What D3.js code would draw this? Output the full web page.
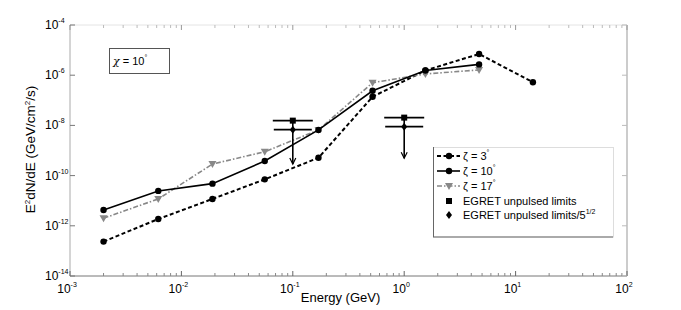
<!DOCTYPE html>
<html>
<head>
<meta charset="utf-8">
<script src="https://cdn.jsdelivr.net/npm/d3@7.9.0/dist/d3.min.js"></script>
<style>
  body { margin: 0; background: #fff; }
  text { font-family: "Liberation Sans", Arial, sans-serif; fill: #000; }
</style>
</head>
<body>
<svg id="chart" width="681" height="310"></svg>
<script>
// energies (GeV) of the model points
const energy = [0.002, 0.0062, 0.019, 0.056, 0.17, 0.52, 1.55, 4.7, 14.3];
// log10 of E^2 dN/dE for each zeta
const zeta3 = [-12.63, -11.73, -10.93, -10.15, -9.29, -6.86, -5.81, -5.155, -6.28];
const zeta10 = [-11.37, -10.61, -10.32, -9.42, -8.18, -6.62, -5.81, -5.57];
const zeta17 = [-11.70, -10.93, -9.54, -9.05, -8.18, -6.30, -5.95, -5.79];
// EGRET unpulsed limits
const egretE = [0.1, 1];
const egretLim = [-7.81, -7.69];
const egretLim5 = [-8.17, -8.05];
const egretTip = [-9.54, -9.31];

const xTicks = [-3, -2, -1, 0, 1, 2];
const yTicks = [-14, -12, -10, -8, -6, -4];

const margin = {top: 25, right: 54, bottom: 34, left: 70},
      width = 681 - margin.left - margin.right,
      height = 310 - margin.top - margin.bottom;

const svgContainer = d3.select("#chart");
const svg = svgContainer.append("g")
  .attr("transform", `translate(${margin.left},${margin.top})`);

const xScale = d3.scaleLog().domain([1e-3, 1e2]).range([0, width]);
const yScale = d3.scaleLog().domain([1e-14, 1e-4]).range([height, 0]);

// frame: top and right drawn faint like the original
svg.append("line").attr("x1", 0).attr("x2", width).attr("y1", 0).attr("y2", 0)
  .attr("stroke", "#e4e4e4");
svg.append("line").attr("x1", width).attr("x2", width).attr("y1", 0).attr("y2", height)
  .attr("stroke", "#999");
svg.append("line").attr("x1", 0).attr("x2", 0).attr("y1", 0).attr("y2", height)
  .attr("stroke", "#aaa");
svg.append("line").attr("x1", 0).attr("x2", width).attr("y1", height).attr("y2", height)
  .attr("stroke", "#777");

// x ticks (major + minor), inward, bottom and top
const minor = [];
for (let e = -3; e < 2; e++) for (let m = 2; m <= 9; m++) minor.push(m * Math.pow(10, e));
svg.selectAll(".xminor").data(minor).enter().append("line")
  .attr("x1", d => xScale(d)).attr("x2", d => xScale(d))
  .attr("y1", height).attr("y2", height - 3).attr("stroke", "#888");
svg.selectAll(".xminorTop").data(minor).enter().append("line")
  .attr("x1", d => xScale(d)).attr("x2", d => xScale(d))
  .attr("y1", 0).attr("y2", 3).attr("stroke", "#bbb");
svg.selectAll(".xmajor").data(xTicks).enter().append("line")
  .attr("x1", d => xScale(Math.pow(10, d))).attr("x2", d => xScale(Math.pow(10, d)))
  .attr("y1", height).attr("y2", height - 5).attr("stroke", "#666");
svg.selectAll(".xmajorTop").data(xTicks).enter().append("line")
  .attr("x1", d => xScale(Math.pow(10, d))).attr("x2", d => xScale(Math.pow(10, d)))
  .attr("y1", 0).attr("y2", 5).attr("stroke", "#999");

// y ticks
svg.selectAll(".ymajor").data(yTicks).enter().append("line")
  .attr("x1", 0).attr("x2", 5)
  .attr("y1", d => yScale(Math.pow(10, d))).attr("y2", d => yScale(Math.pow(10, d)))
  .attr("stroke", "#777");
svg.selectAll(".ymajorR").data(yTicks).enter().append("line")
  .attr("x1", width).attr("x2", width - 5)
  .attr("y1", d => yScale(Math.pow(10, d))).attr("y2", d => yScale(Math.pow(10, d)))
  .attr("stroke", "#bbb");

// tick labels "10^n"
const xl = svg.selectAll(".xlab").data(xTicks).enter().append("text")
  .attr("x", d => xScale(Math.pow(10, d)) - 3)
  .attr("y", height + 17)
  .attr("text-anchor", "middle")
  .style("font-size", "12px");
xl.append("tspan").text("10");
xl.append("tspan").attr("dy", -6).style("font-size", "7px").text(d => d === 0 ? "0" : d);

const yl = svg.selectAll(".ylab").data(yTicks).enter().append("text")
  .attr("x", -25)
  .attr("y", d => yScale(Math.pow(10, d)) + 4)
  .attr("text-anchor", "start")
  .style("font-size", "12px");
yl.append("tspan").text("10");
yl.append("tspan").attr("dy", -6).style("font-size", "7px").text(d => d);

// axis labels
svg.append("text")
  .attr("x", width / 2 - 8).attr("y", height + 26)
  .attr("text-anchor", "middle").style("font-size", "13px")
  .text("Energy (GeV)");

const yLabel = svg.append("text")
  .attr("transform", "rotate(-90)")
  .attr("x", -height / 2 + 1).attr("y", -35)
  .attr("text-anchor", "middle").style("font-size", "13.5px");
yLabel.append("tspan").text("E");
yLabel.append("tspan").attr("dy", -5).style("font-size", "8px").text("2");
yLabel.append("tspan").attr("dy", 5).text("dN/dE (GeV/cm");
yLabel.append("tspan").attr("dy", -5).style("font-size", "8px").text("2");
yLabel.append("tspan").attr("dy", 5).text("/s)");

// series
const series = [
  {vals: zeta3, color: "#000", width: 2, dash: "4,2.5", marker: "circle", label: "3"},
  {vals: zeta17, color: "#888", width: 1.6, dash: "5,2,1.5,2", marker: "tri", label: "17"},
  {vals: zeta10, color: "#000", width: 1.6, dash: null, marker: "circle", label: "10"}
];

const line = d3.line()
  .x((d, i) => xScale(energy[i]))
  .y(d => yScale(Math.pow(10, d)));

function drawMarker(g, kind, color, x, y) {
  if (kind === "circle") {
    g.append("circle").attr("cx", x).attr("cy", y).attr("r", 3.2).attr("fill", color);
  } else {
    g.append("path").attr("d", `M${x - 4},${y - 3}L${x + 4},${y - 3}L${x},${y + 4}Z`)
      .attr("fill", color);
  }
}

series.forEach(s => {
  svg.append("path")
    .datum(s.vals)
    .attr("d", line)
    .attr("fill", "none")
    .attr("stroke", s.color)
    .attr("stroke-width", s.width)
    .attr("stroke-dasharray", s.dash);
  const g = svg.append("g");
  s.vals.forEach((v, i) => drawMarker(g, s.marker, s.color, xScale(energy[i]), yScale(Math.pow(10, v))));
});

// EGRET limits
egretE.forEach((e, i) => {
  const x = xScale(e);
  const y1 = yScale(Math.pow(10, egretLim[i]));
  const y2 = yScale(Math.pow(10, egretLim5[i]));
  const y3 = yScale(Math.pow(10, egretTip[i]));
  svg.append("line").attr("x1", x - 20).attr("x2", x + 20).attr("y1", y1).attr("y2", y1)
    .attr("stroke", "#000").attr("stroke-width", 1.8);
  svg.append("line").attr("x1", x - 19).attr("x2", x + 19).attr("y1", y2).attr("y2", y2)
    .attr("stroke", "#000").attr("stroke-width", 1.8);
  svg.append("line").attr("x1", x).attr("x2", x).attr("y1", y1).attr("y2", y3)
    .attr("stroke", "#000").attr("stroke-width", 1.6);
  svg.append("path").attr("d", `M${x - 3},${y3 - 6}L${x},${y3}L${x + 3},${y3 - 6}`)
    .attr("fill", "none").attr("stroke", "#000").attr("stroke-width", 1.2);
  svg.append("rect").attr("x", x - 3).attr("y", y1 - 3).attr("width", 6).attr("height", 6)
    .attr("fill", "#000");
  svg.append("path").attr("d", `M${x},${y2 - 4}L${x + 3},${y2}L${x},${y2 + 4}L${x - 3},${y2}Z`)
    .attr("fill", "#000");
});

// chi annotation box
svgContainer.append("rect")
  .attr("x", 109.5).attr("y", 48.5).attr("width", 60).attr("height", 25)
  .attr("fill", "#fff").attr("stroke", "#555");
const chi = svgContainer.append("text").attr("x", 113).attr("y", 65).style("font-size", "11px");
chi.append("tspan").style("font-style", "italic").style("font-family", "'DejaVu Serif', serif").text("χ");
chi.append("tspan").text(" = 10");
chi.append("tspan").attr("dy", -5).style("font-size", "7px").text("°");

// legend
const lx = 433, ly = 147;
const legend = svgContainer.append("g");
legend.append("rect").attr("x", lx + 0.5).attr("y", ly + 0.5).attr("width", 180).attr("height", 89.5)
  .attr("fill", "#fff").attr("stroke", "#ddd");
legend.append("line").attr("x1", lx + 0.5).attr("x2", lx + 0.5).attr("y1", ly).attr("y2", ly + 90)
  .attr("stroke", "#666");
legend.append("line").attr("x1", lx).attr("x2", lx + 180).attr("y1", ly + 90).attr("y2", ly + 90)
  .attr("stroke", "#666");

const legendOrder = [series[0], series[2], series[1]];
legendOrder.forEach((s, i) => {
  const y = ly + 9 + i * 15;
  legend.append("line").attr("x1", lx + 4).attr("x2", lx + 27).attr("y1", y).attr("y2", y)
    .attr("stroke", s.color).attr("stroke-width", s.width).attr("stroke-dasharray", s.dash);
  drawMarker(legend, s.marker, s.color, lx + 16, y);
  const t = legend.append("text").attr("x", lx + 30).attr("y", y + 4).style("font-size", "11px");
  t.append("tspan").text("ζ = " + s.label);
  t.append("tspan").attr("dy", -5).style("font-size", "7px").text("°");
});
const ey1 = ly + 54, ey2 = ly + 68;
legend.append("rect").attr("x", lx + 13).attr("y", ey1 - 3).attr("width", 6).attr("height", 6).attr("fill", "#000");
legend.append("text").attr("x", lx + 30).attr("y", ey1 + 4).style("font-size", "11px")
  .text("EGRET unpulsed limits");
legend.append("path")
  .attr("d", `M${lx + 16},${ey2 - 4}L${lx + 19},${ey2}L${lx + 16},${ey2 + 4}L${lx + 13},${ey2}Z`)
  .attr("fill", "#000");
const et = legend.append("text").attr("x", lx + 30).attr("y", ey2 + 4).style("font-size", "11px");
et.append("tspan").text("EGRET unpulsed limits/5");
et.append("tspan").attr("dy", -5).style("font-size", "7px").text("1/2");
</script>
</body>
</html>
